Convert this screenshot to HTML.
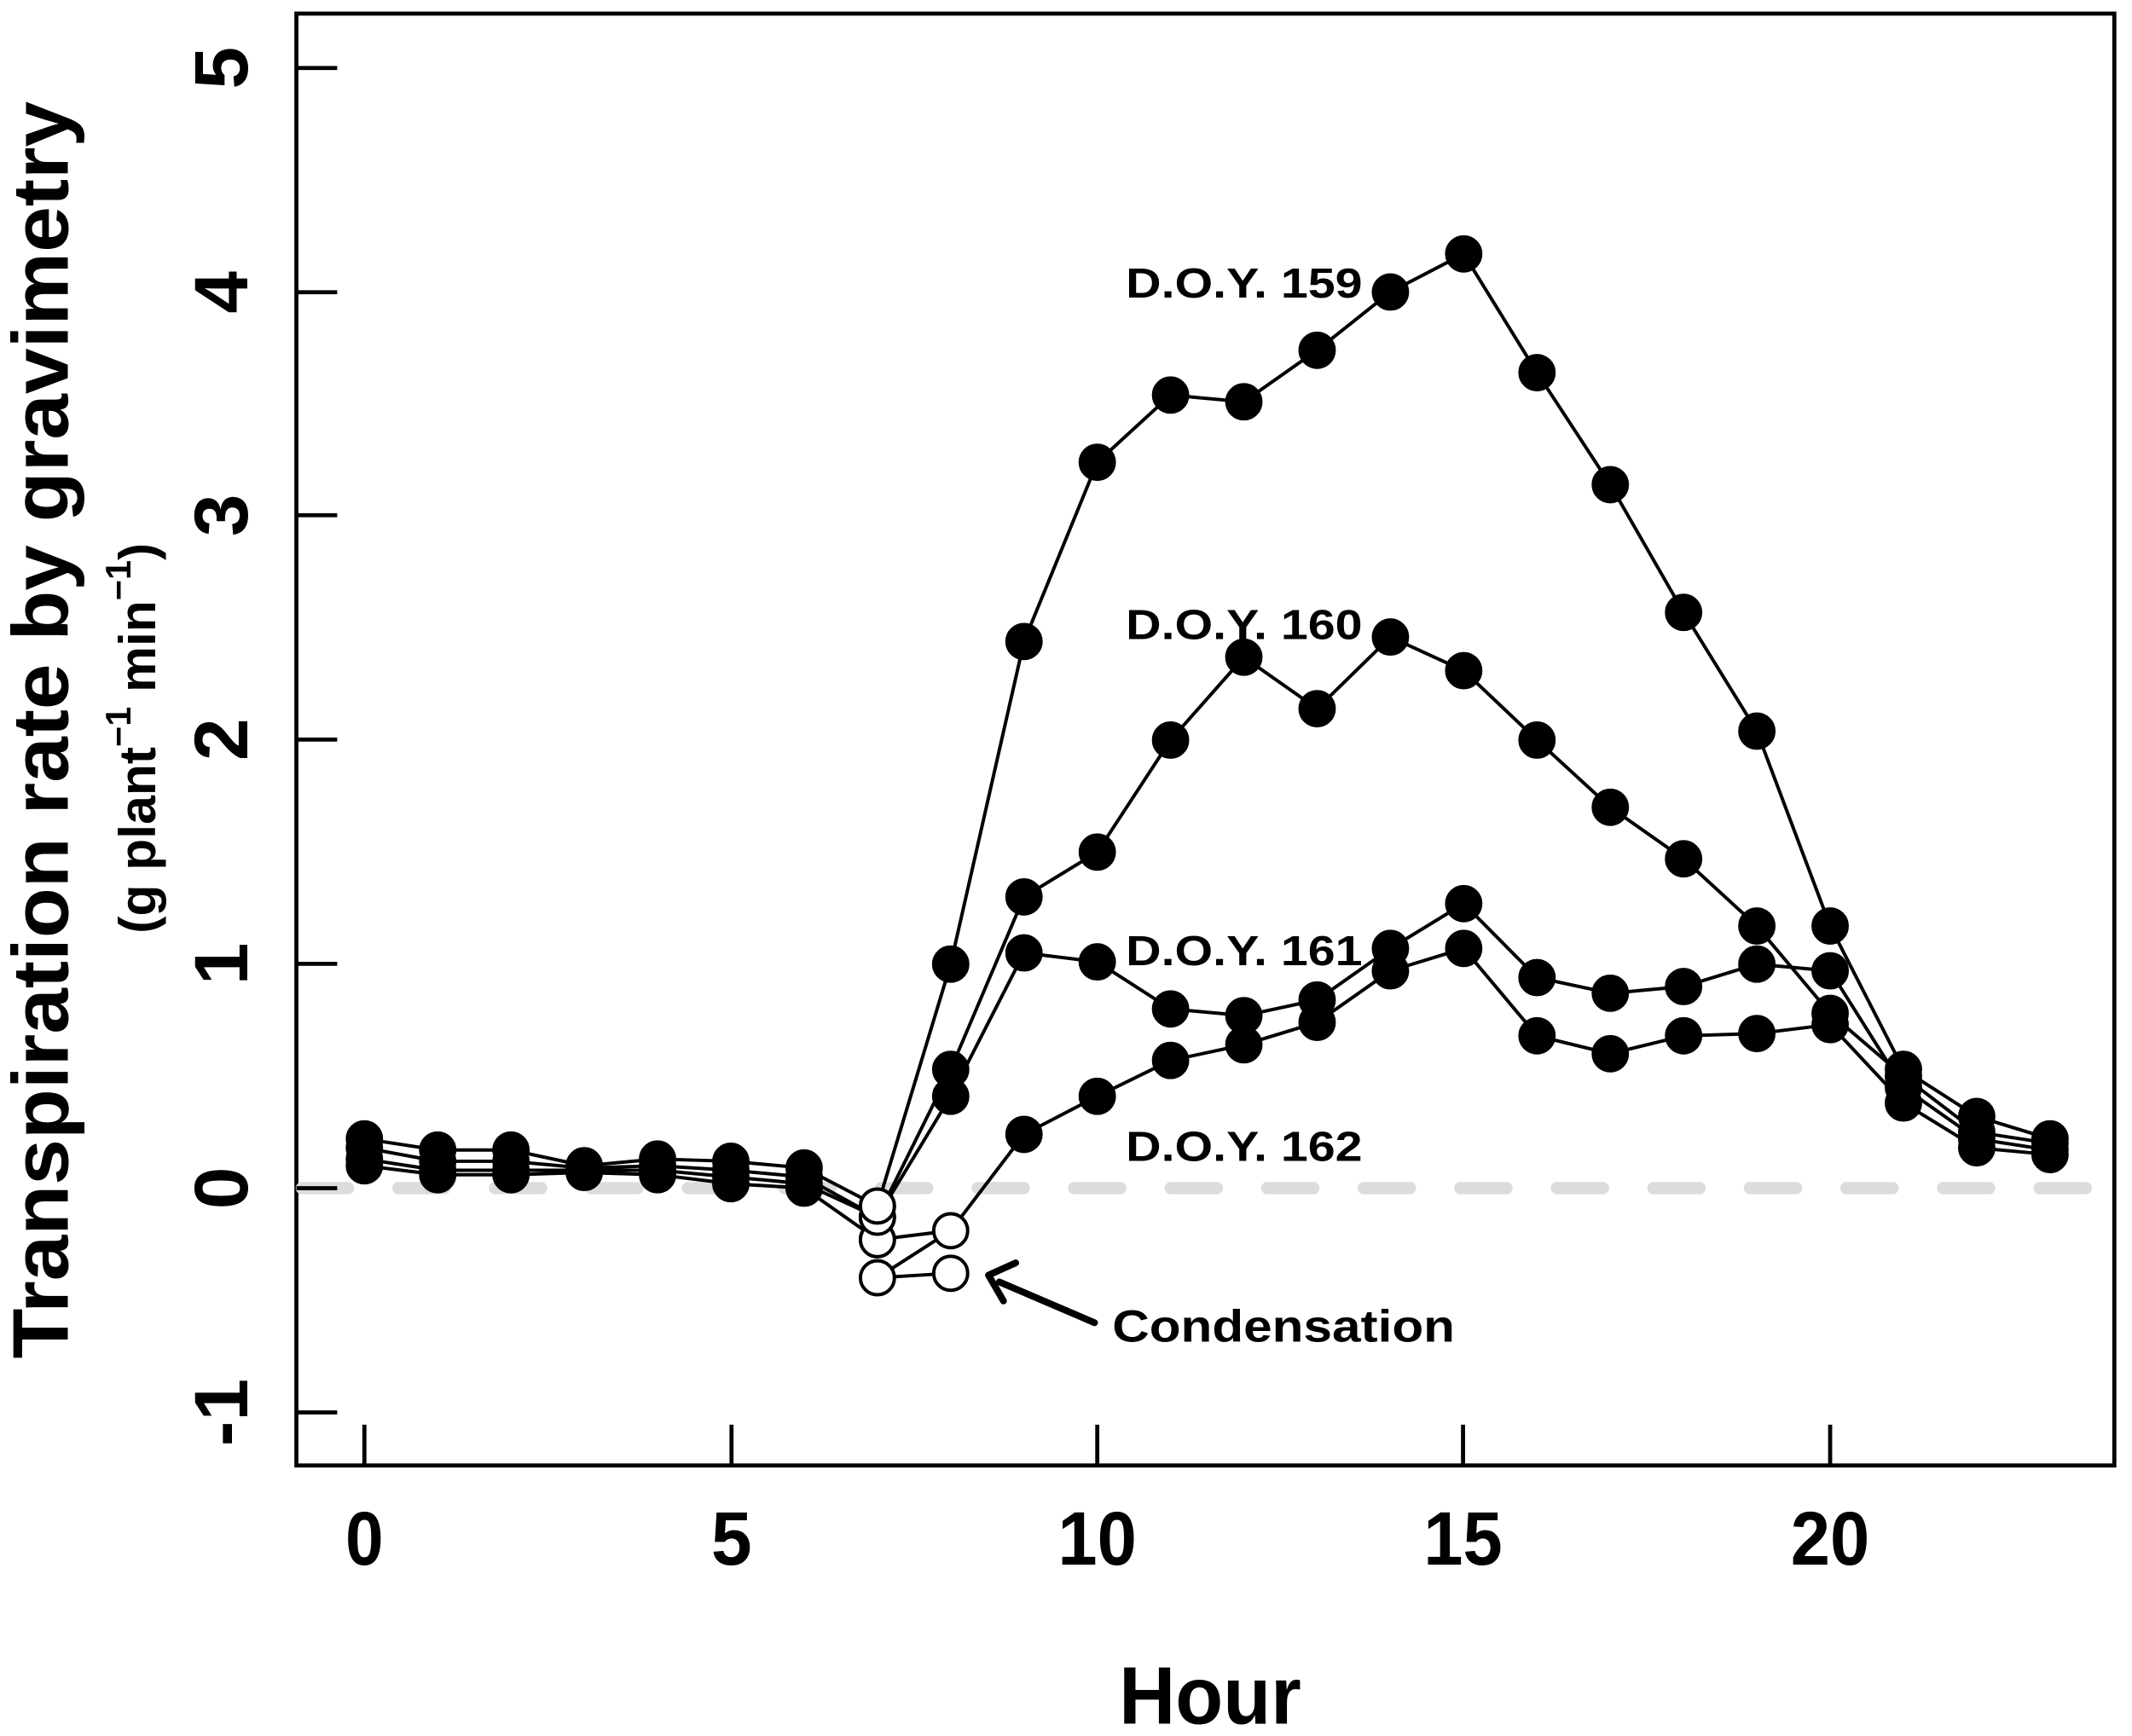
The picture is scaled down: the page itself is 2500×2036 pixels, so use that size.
<!DOCTYPE html>
<html><head><style>body{margin:0;background:#fff}svg{display:block}</style></head><body>
<svg width="2500" height="2036" viewBox="0 0 1568 1277" preserveAspectRatio="none" xmlns="http://www.w3.org/2000/svg" font-family="Liberation Sans, Arial, sans-serif" font-weight="bold">
<rect x="218" y="10" width="1337" height="1068" fill="none" stroke="#000" stroke-width="3"/>
<line x1="222" y1="874" x2="1550" y2="874" stroke="#dcdcdc" stroke-width="9" stroke-dasharray="34,37" stroke-linecap="round"/>
<g stroke="#000" stroke-width="3">
<line x1="218" y1="50" x2="248" y2="50"/><line x1="218" y1="215" x2="248" y2="215"/><line x1="218" y1="379" x2="248" y2="379"/><line x1="218" y1="544" x2="248" y2="544"/><line x1="218" y1="709" x2="248" y2="709"/><line x1="218" y1="874" x2="248" y2="874"/><line x1="218" y1="1039" x2="248" y2="1039"/>
<line x1="268" y1="1078" x2="268" y2="1048"/><line x1="538" y1="1078" x2="538" y2="1048"/><line x1="807" y1="1078" x2="807" y2="1048"/><line x1="1076" y1="1078" x2="1076" y2="1048"/><line x1="1346" y1="1078" x2="1346" y2="1048"/>
</g>
<g font-size="56" text-anchor="middle">
<text x="268" y="1151" textLength="28" lengthAdjust="spacingAndGlyphs">0</text><text x="538" y="1151" textLength="30" lengthAdjust="spacingAndGlyphs">5</text><text x="807" y="1151" textLength="58" lengthAdjust="spacingAndGlyphs">10</text><text x="1076" y="1151" textLength="58" lengthAdjust="spacingAndGlyphs">15</text><text x="1346" y="1151" textLength="58" lengthAdjust="spacingAndGlyphs">20</text>
</g>
<g font-size="56" text-anchor="middle">
<text transform="translate(182,50) rotate(-90)">5</text>
<text transform="translate(182,215) rotate(-90)">4</text>
<text transform="translate(182,379) rotate(-90)">3</text>
<text transform="translate(182,544) rotate(-90)">2</text>
<text transform="translate(182,709) rotate(-90)">1</text>
<text transform="translate(182,874) rotate(-90)">0</text>
<text transform="translate(182,1039) rotate(-90)">-1</text>
</g>
<text x="890" y="1268" font-size="60" text-anchor="middle" textLength="134" lengthAdjust="spacingAndGlyphs">Hour</text>
<text transform="translate(50,537) rotate(-90)" font-size="58" text-anchor="middle" textLength="925" lengthAdjust="spacingAndGlyphs">Transpiration rate by gravimetry</text>
<text transform="translate(114,543) rotate(-90)" font-size="38" text-anchor="middle">(g plant<tspan font-size="26" dy="-18">−1</tspan><tspan dy="18"> min</tspan><tspan font-size="26" dy="-18">−1</tspan><tspan dy="18">)</tspan></text>
<g font-size="31">
<text x="828" y="219" textLength="174" lengthAdjust="spacingAndGlyphs">D.O.Y. 159</text>
<text x="828" y="470" textLength="174" lengthAdjust="spacingAndGlyphs">D.O.Y. 160</text>
<text x="828" y="710" textLength="174" lengthAdjust="spacingAndGlyphs">D.O.Y. 161</text>
<text x="828" y="854" textLength="174" lengthAdjust="spacingAndGlyphs">D.O.Y. 162</text>
<text x="818" y="987" font-size="33" textLength="252" lengthAdjust="spacingAndGlyphs">Condensation</text>
</g>
<line x1="805" y1="973" x2="735" y2="943" stroke="#000" stroke-width="5" stroke-linecap="round"/>
<polyline points="747,929 727,938 738,957" fill="none" stroke="#000" stroke-width="5" stroke-linecap="round" stroke-linejoin="round"/>
<g id="s" fill="none" stroke="#000" stroke-width="2.5"></g>
<script>
var X=function(h){return 268+h*53.9},Y=function(v){return 874-v*164.8};
var S=[
[.22,.17,.17,.1,.13,.12,.09,-.08,1.0,2.44,3.24,3.54,3.51,3.74,4.0,4.17,3.64,3.14,2.57,2.04,1.17,.53,.32,.22],
[.18,.12,.12,.09,.1,.08,.05,-.13,.53,1.3,1.5,2.0,2.37,2.14,2.46,2.31,2.0,1.7,1.47,1.17,.78,.5,.25,.2],
[.13,.08,.08,.08,.08,.05,.02,-.13,.41,1.05,1.01,.8,.77,.84,1.07,1.27,.94,.87,.9,1.0,.97,.45,.22,.17],
[.1,.06,.06,.07,.06,.02,0,-.23,-.19,.24,.41,.57,.64,.74,.97,1.07,.68,.6,.68,.69,.73,.38,.18,.15]];
var ns="http://www.w3.org/2000/svg",g=document.getElementById('s'),svg=g.ownerSVGElement;
function el(t,a,p){var e=document.createElementNS(ns,t);for(var k in a)e.setAttribute(k,a[k]);(p||svg).appendChild(e);return e;}
S.forEach(function(s){el('polyline',{points:s.map(function(v,i){return X(i)+','+Y(v)}).join(' '),fill:'none',stroke:'#000','stroke-width':2.5});});
el('polyline',{points:X(7)+','+Y(-.4)+' '+X(8)+','+Y(-.38),fill:'none',stroke:'#000','stroke-width':2.5});
el('polyline',{points:X(7)+','+Y(-.4)+' '+X(8)+','+Y(-.19),fill:'none',stroke:'#000','stroke-width':2.5});
var R=12.5;
S.forEach(function(s){s.forEach(function(v,i){var open=(v<-0.05);el('circle',{cx:X(i),cy:Y(v),r:R,fill:open?'#fff':'#000',stroke:'#000','stroke-width':2.5});});});
el('circle',{cx:X(7),cy:Y(-.4),r:R,fill:'#fff',stroke:'#000','stroke-width':2.5});
el('circle',{cx:X(8),cy:Y(-.38),r:R,fill:'#fff',stroke:'#000','stroke-width':2.5});
el('circle',{cx:X(7),cy:Y(-.23),r:R,fill:'#fff',stroke:'#000','stroke-width':2.5});
el('circle',{cx:X(7),cy:Y(-.13),r:R,fill:'#fff',stroke:'#000','stroke-width':2.5});
el('circle',{cx:X(7),cy:Y(-.08),r:R,fill:'#fff',stroke:'#000','stroke-width':2.5});
</script>
</svg>
</body></html>
